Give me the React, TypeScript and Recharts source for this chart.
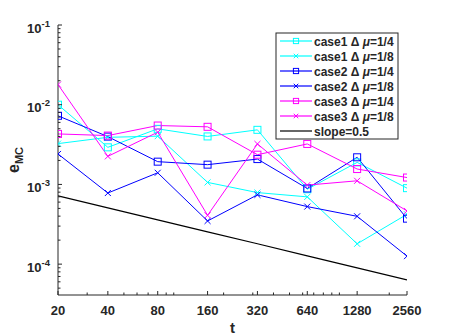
import React from "react";
import { LineChart, Line, XAxis, YAxis } from "recharts";

const T = [20, 40, 80, 160, 320, 640, 1280, 2560];
const case1Mu4 = [0.01, 0.00292, 0.00498, 0.004, 0.00484, 0.00087, 0.00189, 0.000898];
const case1Mu8 = [0.00325, 0.0039, 0.00403, 0.00106, 0.00079, 0.000698, 0.00018, 0.000422];
const case2Mu4 = [0.00726, 0.00398, 0.00193, 0.00177, 0.00208, 0.00089, 0.00219, 0.000372];
const case2Mu8 = [0.00241, 0.00078, 0.0014, 0.000348, 0.00074, 0.000527, 0.000398, 0.000126];
const case3Mu4 = [0.0043, 0.0041, 0.00548, 0.00528, 0.00236, 0.00322, 0.00156, 0.00122];
const case3Mu8 = [0.0179, 0.00225, 0.00452, 0.00041, 0.00322, 0.00098, 0.00111, 0.000465];
const slopeRef = [7.18e-4, 5.08e-4, 3.59e-4, 2.54e-4, 1.8e-4, 1.27e-4, 8.98e-5, 6.35e-5];

const X_MAJOR = [20, 40, 80, 160, 320, 640, 1280, 2560];
const X_MINOR = [30, 50, 60, 70, 90, 100, 200, 300, 400, 500, 600, 700, 800, 900, 1000, 2000];
const Y_MAJOR = [1e-4, 1e-3, 1e-2, 1e-1];
const Y_MAJOR_EXP = ["-4", "-3", "-2", "-1"];
const Y_MINOR = [
  5e-5, 6e-5, 7e-5, 8e-5, 9e-5,
  2e-4, 3e-4, 4e-4, 5e-4, 6e-4, 7e-4, 8e-4, 9e-4,
  2e-3, 3e-3, 4e-3, 5e-3, 6e-3, 7e-3, 8e-3, 9e-3,
  2e-2, 3e-2, 4e-2, 5e-2, 6e-2, 7e-2, 8e-2, 9e-2,
];

const CYAN = "#00FFFF";
const BLUE = "#0000FF";
const MAGENTA = "#FF00FF";
const AXIS = "#262626";
const FONT = "'Liberation Sans', Arial, Helvetica, sans-serif";

type S = { key: string; label: string; mu: string; values: number[]; color: string; marker: "square" | "x" | "none" };
const SERIES: S[] = [
  { key: "c1a", label: "case1 \u0394 ", mu: "=1/4", values: case1Mu4, color: CYAN, marker: "square" },
  { key: "c1b", label: "case1 \u0394 ", mu: "=1/8", values: case1Mu8, color: CYAN, marker: "x" },
  { key: "c2a", label: "case2 \u0394 ", mu: "=1/4", values: case2Mu4, color: BLUE, marker: "square" },
  { key: "c2b", label: "case2 \u0394 ", mu: "=1/8", values: case2Mu8, color: BLUE, marker: "x" },
  { key: "c3a", label: "case3 \u0394 ", mu: "=1/4", values: case3Mu4, color: MAGENTA, marker: "square" },
  { key: "c3b", label: "case3 \u0394 ", mu: "=1/8", values: case3Mu8, color: MAGENTA, marker: "x" },
];

const data = T.map((t, i) => {
  const row: Record<string, number> = { t, slope: slopeRef[i] };
  SERIES.forEach((s) => (row[s.key] = s.values[i]));
  return row;
});

const Marker = ({ cx, cy, color, kind, r = 3.5 }: { cx: number; cy: number; color: string; kind: string; r?: number }) => {
  if (kind === "square")
    return <rect x={cx - r} y={cy - r} width={2 * r} height={2 * r} fill="none" stroke={color} strokeWidth={1} />;
  if (kind === "x") {
    const q = r * 0.86;
    return (
      <g stroke={color} strokeWidth={1}>
        <line x1={cx - q} y1={cy - q} x2={cx + q} y2={cy + q} />
        <line x1={cx - q} y1={cy + q} x2={cx + q} y2={cy - q} />
      </g>
    );
  }
  return null;
};

const makeDot = (color: string, kind: string) => (props: any) => {
  const { cx, cy, index } = props;
  if (cx == null || cy == null) return <g key={`d${index}`} />;
  return (
    <g key={`d${index}`}>
      <Marker cx={cx} cy={cy} color={color} kind={kind} />
    </g>
  );
};

const MAJ = 4;
const MIN = 2.5;

const BottomTick = (props: any) => {
  const { x, y, payload } = props;
  const major = X_MAJOR.includes(payload.value);
  return (
    <g>
      <line x1={x} y1={y} x2={x} y2={y - (major ? MAJ : MIN)} stroke={AXIS} strokeWidth={1} />
      {major && (
        <text x={x} y={y + 20} textAnchor="middle" fontFamily={FONT} fontWeight="bold" fontSize={13} fill={AXIS}>
          {payload.value}
        </text>
      )}
    </g>
  );
};

const TopTick = (props: any) => {
  const { x, y, payload } = props;
  const major = X_MAJOR.includes(payload.value);
  return <line x1={x} y1={y} x2={x} y2={y + (major ? MAJ : MIN)} stroke={AXIS} strokeWidth={1} />;
};

const LeftTick = (props: any) => {
  const { x, y, payload } = props;
  const idx = Y_MAJOR.findIndex((v) => Math.abs(v - payload.value) / v < 1e-6);
  const major = idx >= 0;
  return (
    <g>
      <line x1={x} y1={y} x2={x + (major ? MAJ : MIN)} y2={y} stroke={AXIS} strokeWidth={1} />
      {major && (
        <text x={x - 8} y={y + 7.5} textAnchor="end" fontFamily={FONT} fontWeight="bold" fontSize={13} fill={AXIS}>
          <tspan>10</tspan>
          <tspan dy={-6} fontSize={9.5}>
            {Y_MAJOR_EXP[idx]}
          </tspan>
        </text>
      )}
    </g>
  );
};

const RightTick = (props: any) => {
  const { x, y, payload } = props;
  const major = Y_MAJOR.some((v) => Math.abs(v - payload.value) / v < 1e-6);
  return <line x1={x} y1={y} x2={x - (major ? MAJ : MIN)} y2={y} stroke={AXIS} strokeWidth={1} />;
};

const X_TICKS = [...X_MAJOR, ...X_MINOR].sort((a, b) => a - b);
const Y_TICKS = [...Y_MAJOR, ...Y_MINOR].sort((a, b) => a - b);
const X_DOMAIN: [number, number] = [20, 2560];
const Y_DOMAIN: [number, number] = [4.1e-5, 0.1];

const LEG_X = 276;
const LEG_Y = 33;
const LEG_W = 122;
const LEG_H = 106;
const LEG_ROW0 = 41;
const LEG_DY = 15;

const LegendBox = () => (
  <svg width={449} height={336} style={{ position: "absolute", left: 0, top: 0, pointerEvents: "none" }}>
    <rect x={LEG_X} y={LEG_Y} width={LEG_W} height={LEG_H} fill="#FFFFFF" stroke={AXIS} strokeWidth={1} />
    {SERIES.map((s, i) => {
      const cy = LEG_ROW0 + i * LEG_DY;
      return (
        <g key={s.key}>
          <line x1={280} y1={cy} x2={312} y2={cy} stroke={s.color} strokeWidth={1.2} />
          <Marker cx={296} cy={cy} color={s.color} kind={s.marker} r={2.6} />
          <text x={314} y={cy + 4.5} fontFamily={FONT} fontWeight="bold" fontSize={12} fill={AXIS}>
            {s.label}
            <tspan fontStyle="italic">{"\u03bc"}</tspan>
            {s.mu}
          </text>
        </g>
      );
    })}
    <g>
      <line x1={280} y1={LEG_ROW0 + 6 * LEG_DY} x2={312} y2={LEG_ROW0 + 6 * LEG_DY} stroke="#000000" strokeWidth={1.2} />
      <text x={314} y={LEG_ROW0 + 6 * LEG_DY + 4.5} fontFamily={FONT} fontWeight="bold" fontSize={12} fill={AXIS}>
        slope=0.5
      </text>
    </g>
    <text x={232.5} y={333} textAnchor="middle" fontFamily={FONT} fontWeight="bold" fontSize={15} fill={AXIS}>
      t
    </text>
    <text
      transform="translate(19,160) rotate(-90)"
      textAnchor="middle"
      fontFamily={FONT}
      fontWeight="bold"
      fontSize={16}
      fill={AXIS}
    >
      <tspan>e</tspan>
      <tspan dy={4} fontSize={11}>
        MC
      </tspan>
    </text>
  </svg>
);

export default function App() {
  return (
    <div style={{ position: "absolute", left: 0, top: 0, width: 449, height: 336, background: "#fff" }}>
      <LineChart width={449} height={336} data={data} margin={{ top: 25, right: 42, bottom: 0, left: 0 }}>
        <XAxis
          xAxisId="bottom"
          dataKey="t"
          type="number"
          scale="log"
          domain={X_DOMAIN}
          allowDataOverflow
          ticks={X_TICKS}
          interval={0}
          tick={BottomTick}
          tickLine={false}
          tickSize={0}
          tickMargin={0}
          height={41}
          axisLine={{ stroke: AXIS }}
        />
        <XAxis
          xAxisId="top"
          orientation="top"
          dataKey="t"
          type="number"
          scale="log"
          domain={X_DOMAIN}
          allowDataOverflow
          ticks={X_TICKS}
          interval={0}
          tick={TopTick}
          tickLine={false}
          tickSize={0}
          tickMargin={0}
          height={0}
          axisLine={{ stroke: AXIS }}
        />
        <YAxis
          yAxisId="left"
          type="number"
          scale="log"
          domain={Y_DOMAIN}
          allowDataOverflow
          ticks={Y_TICKS}
          interval={0}
          tick={LeftTick}
          tickLine={false}
          tickSize={0}
          tickMargin={0}
          width={58}
          axisLine={{ stroke: AXIS }}
        />
        <YAxis
          yAxisId="right"
          orientation="right"
          type="number"
          scale="log"
          domain={Y_DOMAIN}
          allowDataOverflow
          ticks={Y_TICKS}
          interval={0}
          tick={RightTick}
          tickLine={false}
          tickSize={0}
          tickMargin={0}
          width={0}
          axisLine={{ stroke: AXIS }}
        />
        <Line
          xAxisId="top"
          yAxisId="right"
          dataKey="slope"
          stroke="none"
          dot={false}
          legendType="none"
          isAnimationActive={false}
        />
        <Line
          xAxisId="bottom"
          yAxisId="left"
          dataKey="slope"
          stroke="#000000"
          strokeWidth={1.2}
          dot={false}
          isAnimationActive={false}
        />
        {SERIES.map((s) => (
          <Line
            key={s.key}
            xAxisId="bottom"
            yAxisId="left"
            dataKey={s.key}
            type="linear"
            stroke={s.color}
            strokeWidth={1}
            dot={makeDot(s.color, s.marker)}
            activeDot={false}
            isAnimationActive={false}
          />
        ))}
      </LineChart>
      <LegendBox />
    </div>
  );
}
